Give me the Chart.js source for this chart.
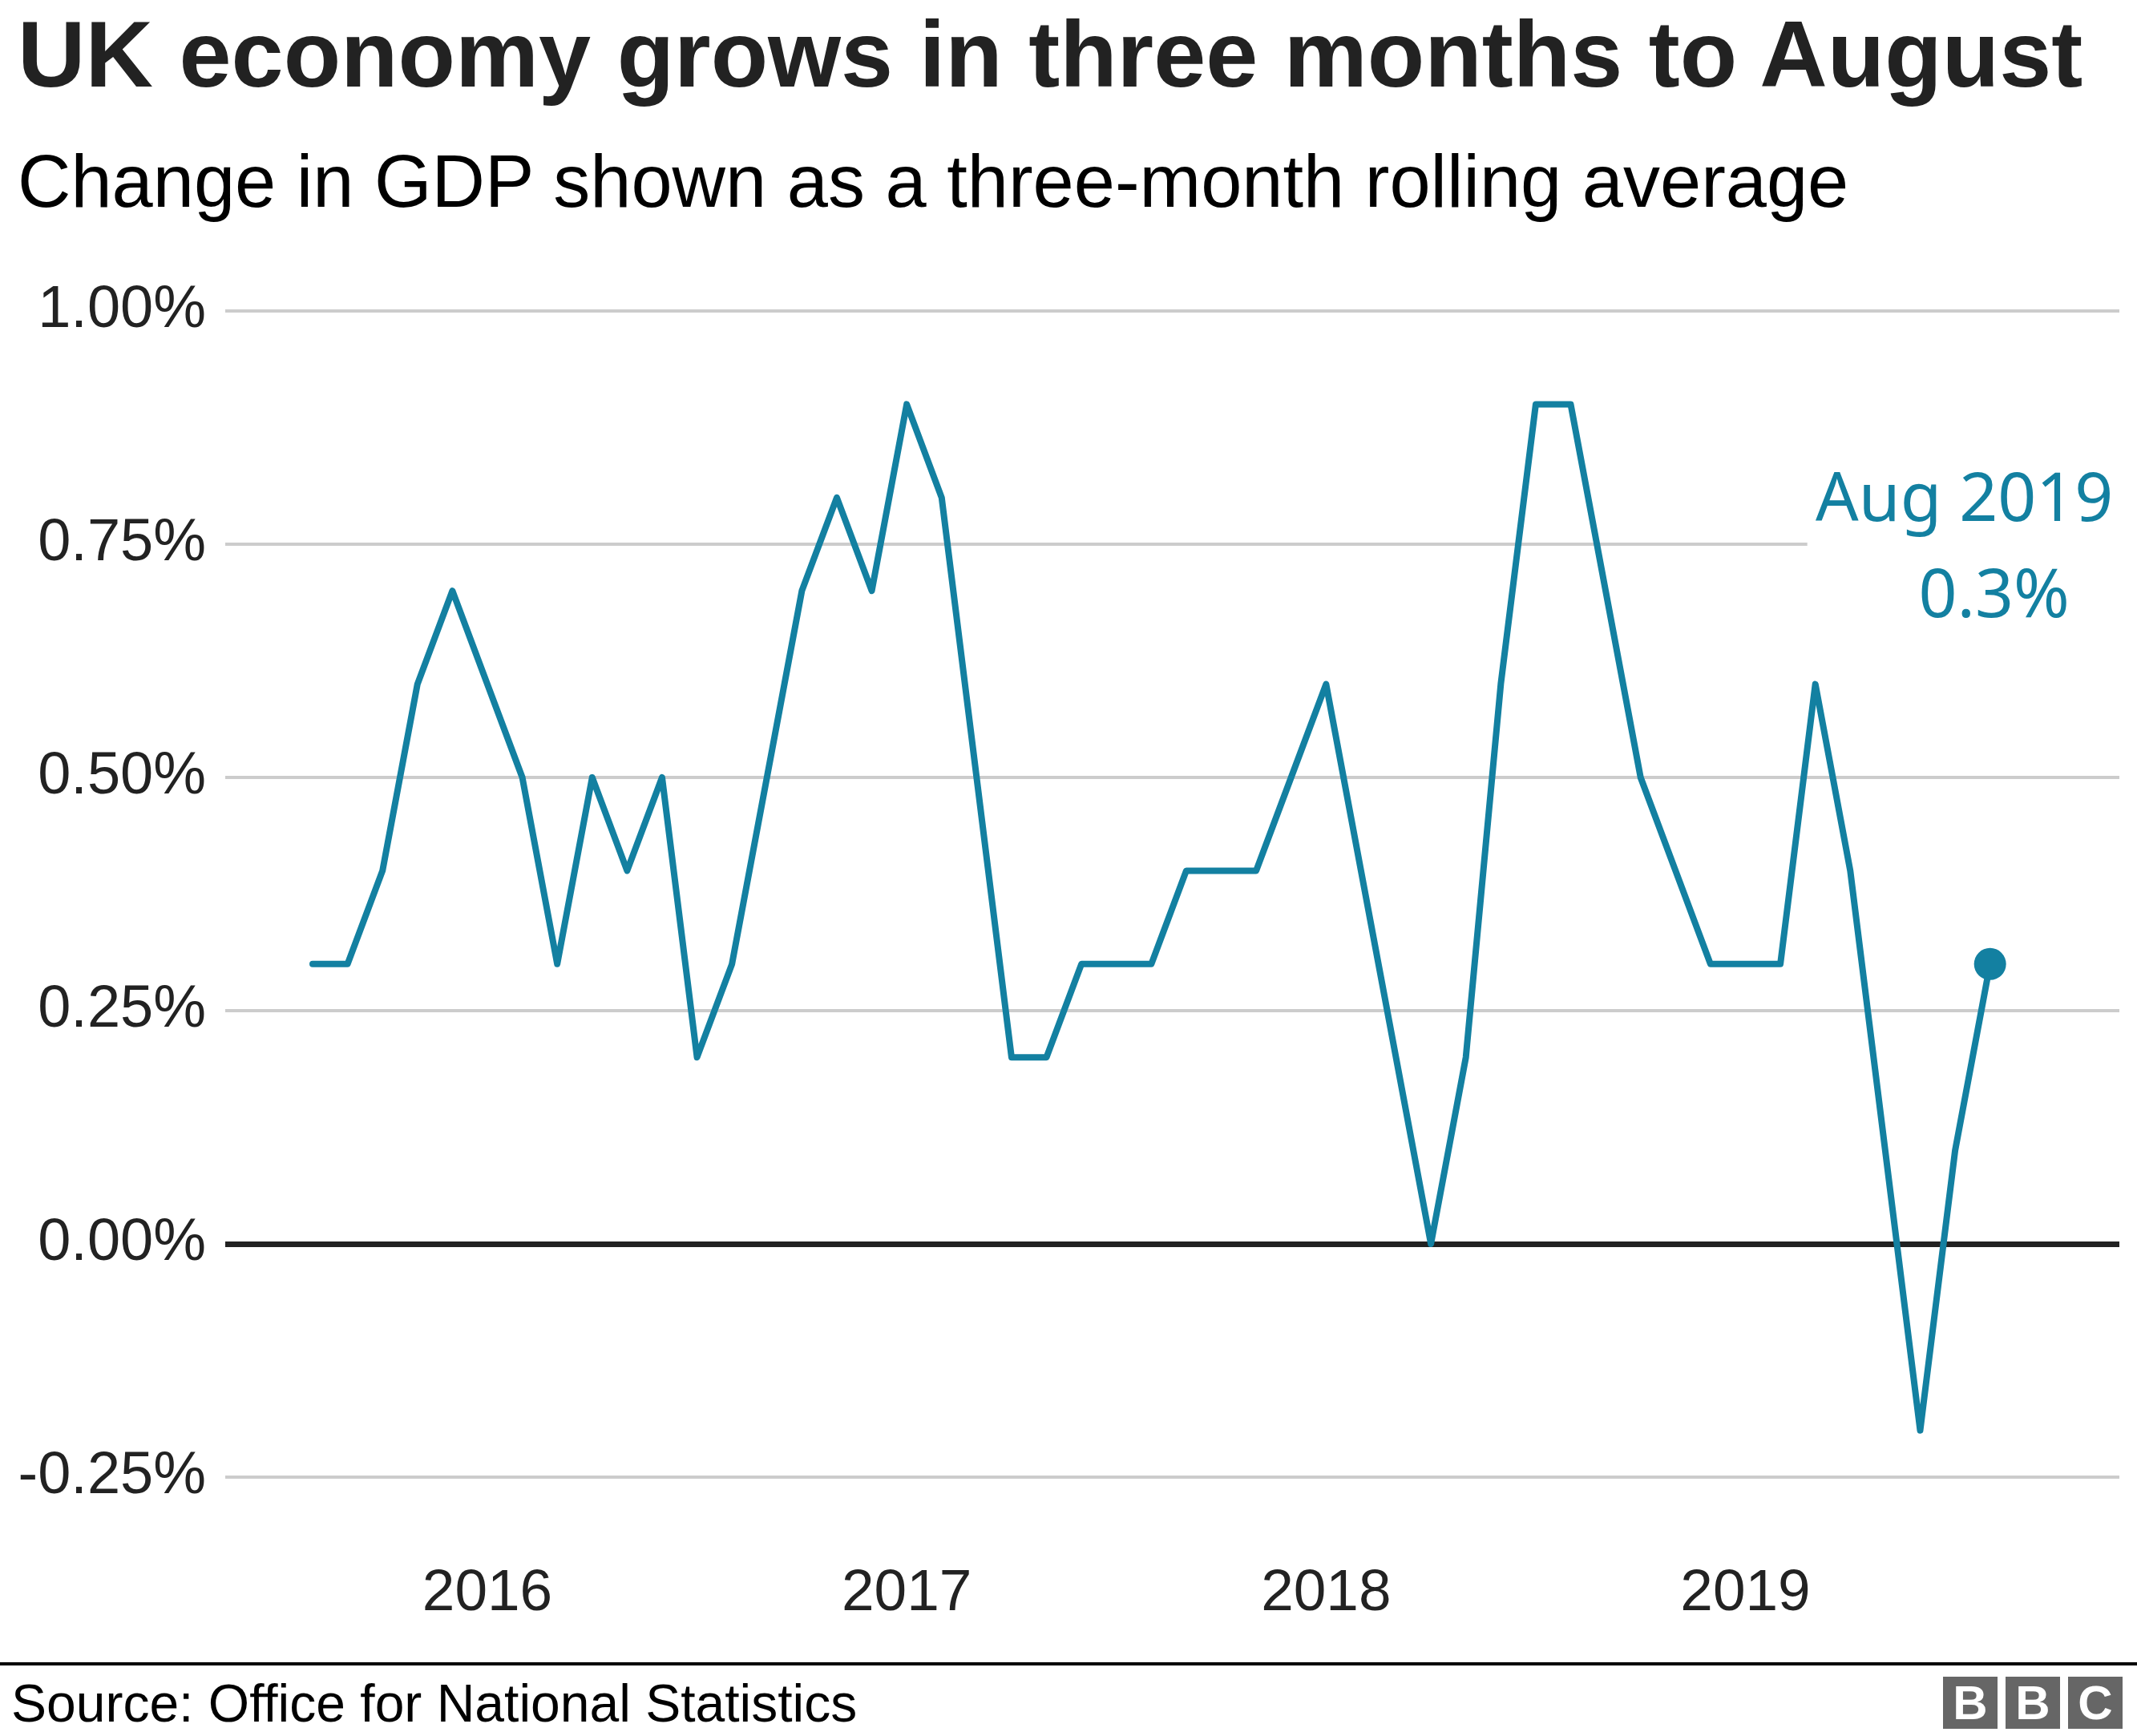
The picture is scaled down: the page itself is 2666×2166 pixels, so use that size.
<!DOCTYPE html>
<html>
<head>
<meta charset="utf-8">
<script src="https://cdn.jsdelivr.net/npm/chart.js@4/dist/chart.umd.min.js"></script>
<style>
  html, body { margin: 0; padding: 0; background: #fff; }
  #wrap { position: relative; width: 2666px; height: 2166px; overflow: hidden; background: #fff; }
  #c { position: absolute; left: 0; top: 0; }
  .txt { position: absolute; white-space: nowrap; line-height: 1; font-family: "Liberation Sans", Arial, sans-serif; }
  #title { left: 22px; top: 9px; font-size: 117px; font-weight: bold; color: #222; }
  #subtitle { left: 22px; top: 180px; font-size: 92px; color: #000; }
  #source { left: 14px; top: 2092px; font-size: 66px; color: #000; }
  #rule { position: absolute; left: 0; top: 2074px; width: 2666px; height: 4px; background: #000; }
  #bbc { position: absolute; left: 2424px; top: 2092px; display: flex; gap: 10px; }
  #bbc div { width: 68px; height: 65px; background: #666; color: #fff; font-family: "Liberation Sans", Arial, sans-serif; font-weight: bold; font-size: 60px; line-height: 65px; text-align: center; }
</style>
</head>
<body>
<div id="wrap">
  <canvas id="c" width="2666" height="2166"></canvas>
  <div id="title" class="txt">UK economy grows in three months to August</div>
  <div id="subtitle" class="txt">Change in GDP shown as a three-month rolling average</div>
  <div id="rule"></div>
  <div id="source" class="txt">Source: Office for National Statistics</div>
  <div id="bbc"><div>B</div><div>B</div><div>C</div></div>
</div>
<script>
// Monthly periods, Aug 2015 to Aug 2019
const months = [
  'Aug 2015','Sep 2015','Oct 2015','Nov 2015','Dec 2015',
  'Jan 2016','Feb 2016','Mar 2016','Apr 2016','May 2016','Jun 2016','Jul 2016','Aug 2016','Sep 2016','Oct 2016','Nov 2016','Dec 2016',
  'Jan 2017','Feb 2017','Mar 2017','Apr 2017','May 2017','Jun 2017','Jul 2017','Aug 2017','Sep 2017','Oct 2017','Nov 2017','Dec 2017',
  'Jan 2018','Feb 2018','Mar 2018','Apr 2018','May 2018','Jun 2018','Jul 2018','Aug 2018','Sep 2018','Oct 2018','Nov 2018','Dec 2018',
  'Jan 2019','Feb 2019','Mar 2019','Apr 2019','May 2019','Jun 2019','Jul 2019','Aug 2019'
];
// Three-month rolling GDP growth, %
const gdpGrowth = [
  0.3,0.3,0.4,0.6,0.7,
  0.6,0.5,0.3,0.5,0.4,0.5,0.2,0.3,0.5,0.7,0.8,0.7,
  0.9,0.8,0.5,0.2,0.2,0.3,0.3,0.3,0.4,0.4,0.4,0.5,
  0.6,0.4,0.2,0.0,0.2,0.6,0.9,0.9,0.7,0.5,0.4,0.3,
  0.3,0.3,0.6,0.4,0.1,-0.2,0.1,0.3
];
const yearTickLabels = ['2016','2017','2018','2019'];
const yearTickMonths = ['Jan 2016','Jan 2017','Jan 2018','Jan 2019'];
const yTickValues = [-0.25, 0, 0.25, 0.5, 0.75, 1.0];
const annotationLines = ['Aug 2019', '0.3%'];

const TEAL = '#1380A1';
const points = gdpGrowth.map((v, i) => ({ x: i, y: v }));
const lastIdx = gdpGrowth.length - 1;

const annotationPlugin = {
  id: 'annot',
  afterDraw(chart) {
    const ctx = chart.ctx;
    const xs = chart.scales.x, ys = chart.scales.y;
    const px = xs.getPixelForValue(lastIdx);
    const py = ys.getPixelForValue(gdpGrowth[lastIdx]);
    ctx.save();
    ctx.fillStyle = '#fff';
    ctx.fillRect(px - 228, py - 620, 390, 210);
    ctx.fillStyle = TEAL;
    ctx.font = '84px "Noto Sans", "Open Sans", sans-serif';
    ctx.textAlign = 'center';
    ctx.textBaseline = 'alphabetic';
    ctx.fillText(annotationLines[0], px - 32, py - 553);
    ctx.fillText(annotationLines[1], px + 5, py - 433);
    ctx.restore();
  }
};

new Chart(document.getElementById('c'), {
  type: 'line',
  data: {
    datasets: [{
      data: points,
      borderColor: TEAL,
      borderWidth: 8,
      borderJoinStyle: 'round',
      borderCapStyle: 'round',
      tension: 0,
      fill: false,
      pointRadius: ctx => ctx.dataIndex === lastIdx ? 20 : 0,
      pointHoverRadius: ctx => ctx.dataIndex === lastIdx ? 20 : 0,
      pointBackgroundColor: TEAL,
      pointBorderWidth: 0
    }]
  },
  options: {
    responsive: false,
    animation: false,
    events: [],
    layout: { padding: { left: 0, right: 22, top: 388, bottom: 123 } },
    plugins: { legend: { display: false }, tooltip: { enabled: false } },
    scales: {
      x: {
        type: 'linear',
        min: -2.5,
        max: 51.7,
        grid: { display: false, drawTicks: false },
        border: { display: false },
        afterBuildTicks: s => { s.ticks = yearTickMonths.map(m => ({ value: months.indexOf(m) })); },
        afterFit: s => { s.height = 200; },
        ticks: {
          autoSkip: false,
          maxRotation: 0,
          padding: 102,
          color: '#222',
          font: { family: '"Liberation Sans", Arial, sans-serif', size: 73 },
          callback: v => yearTickLabels[yearTickMonths.indexOf(months[v])]
        }
      },
      y: {
        min: -0.25,
        max: 1.0,
        afterBuildTicks: s => { s.ticks = yTickValues.map(v => ({ value: v })); },
        afterFit: s => { s.width = 281; },
        grid: {
          drawTicks: false,
          color: ctx => ctx.tick && ctx.tick.value === 0 ? '#222222' : '#cccccc',
          lineWidth: ctx => ctx.tick && ctx.tick.value === 0 ? 7 : 4
        },
        border: { display: false },
        ticks: {
          padding: 24,
          color: '#222',
          font: { family: '"Liberation Sans", Arial, sans-serif', size: 74 },
          callback: v => v.toFixed(2) + '%'
        }
      }
    }
  },
  plugins: [annotationPlugin]
});
</script>
</body>
</html>
